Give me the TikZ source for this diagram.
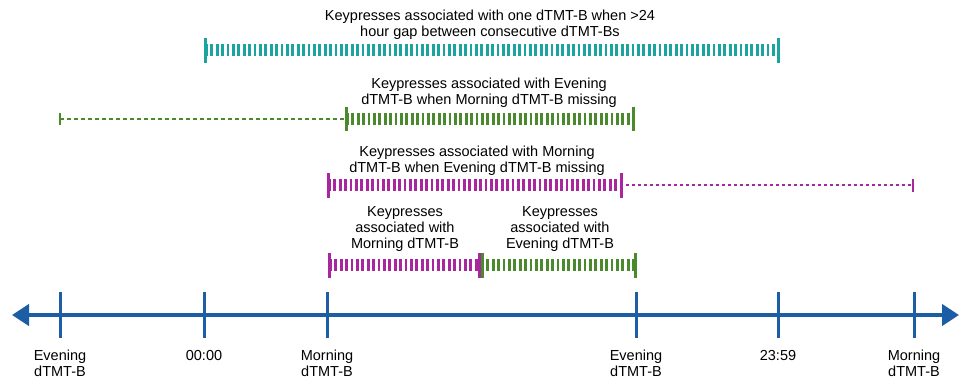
\documentclass[tikz,border=0pt]{standalone}
\usepackage{fontspec}
\setmainfont{Liberation Sans}
\usetikzlibrary{arrows.meta,positioning}
\definecolor{tlblue}{HTML}{1B5EA6}
\definecolor{kpteal}{HTML}{1AA39F}
\definecolor{kpgreen}{HTML}{4B8A2C}
\definecolor{kppurple}{HTML}{A8279E}

\begin{document}
\begin{tikzpicture}[x=1pt,y=-1pt,
    txt/.style={font=\fontsize{14.5}{16}\selectfont,align=center,inner sep=0pt},
    hatch/.style={line width=12pt,dash pattern=on 2.7pt off 2.7pt},
    endcap/.style={line width=3pt},
    thincap/.style={line width=1.5pt}]
  \useasboundingbox (0,0) rectangle (959,383);

  % Time axis
  \coordinate (left) at (12,315);
  \coordinate (right) at (959,315);
  \draw[tlblue,line width=4.5pt,{Triangle[length=17pt,width=21pt]}-{Triangle[length=17pt,width=21pt]}] (left) -- (right);
  \foreach \x/\name/\lbl in {60/eva/{Evening\\dTMT-B},204/mid/{00:00},327/moa/{Morning\\dTMT-B},
                            636/evb/{Evening\\dTMT-B},778/late/{23:59},914/mob/{Morning\\dTMT-B}} {
    \draw[tlblue,line width=3pt] (\x,292) -- (\x,338);
    \node[txt,anchor=north] (\name) at (\x,350) {\lbl};
  }

  % One dTMT-B, >24 hour gap
  \node[txt] (gaptxt) at (490,25) {Keypresses associated with one dTMT-B when >24\\hour gap between consecutive dTMT-Bs};
  \draw[kpteal,hatch] (205,50) -- (778,50);
  \draw[kpteal,endcap] (205,38) -- (205,63);
  \draw[kpteal,endcap] (778,38) -- (778,63);

  % Evening dTMT-B, Morning missing
  \node[txt] (evtxt) at (489,93) {Keypresses associated with Evening\\dTMT-B when Morning dTMT-B missing};
  \draw[kpgreen,thincap,dash pattern=on 4pt off 3pt] (60,119) -- (345,119);
  \draw[kpgreen,thincap] (60,113) -- (60,125);
  \draw[kpgreen,hatch] (346,119) -- (633,119);
  \draw[kpgreen,endcap] (346,107) -- (346,131);
  \draw[kpgreen,endcap] (633,107) -- (633,131);

  % Morning dTMT-B, Evening missing
  \node[txt] (motxt) at (477,161) {Keypresses associated with Morning\\dTMT-B when Evening dTMT-B missing};
  \draw[kppurple,hatch] (328,185) -- (621,185);
  \draw[kppurple,endcap] (328,173) -- (328,198);
  \draw[kppurple,endcap] (621,173) -- (621,198);
  \draw[kppurple,line width=2.5pt,dash pattern=on 3pt off 3pt] (626,185) -- (912,185);
  \draw[kppurple,thincap] (913,179) -- (913,192);

  % Both present
  \node[txt] (motxtb) at (405,229) {Keypresses\\associated with\\Morning dTMT-B};
  \node[txt] (evtxtb) at (560,229) {Keypresses\\associated with\\Evening dTMT-B};
  \draw[kppurple,hatch] (329,265) -- (479,265);
  \draw[kppurple,endcap] (329,253) -- (329,278);
  \draw[kppurple,endcap] (479,253) -- (479,278);
  \draw[kpgreen,hatch] (481,265) -- (635,265);
  \draw[kpgreen,endcap] (482,253) -- (482,278);
  \draw[kpgreen,endcap] (635,253) -- (635,278);

\end{tikzpicture}
\end{document}
